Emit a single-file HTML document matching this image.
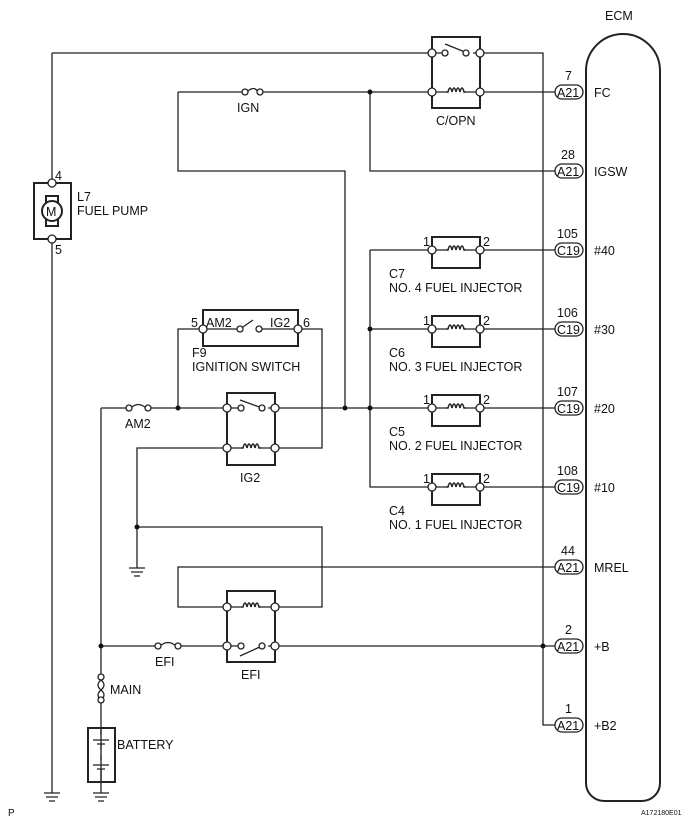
<!DOCTYPE html>
<html><head><meta charset="utf-8"><style>
html,body{margin:0;padding:0;background:#fff;}
svg{display:block;}
text{font-family:"Liberation Sans",sans-serif;font-size:12.5px;fill:#111;}
.w{fill:none;stroke:#222;stroke-width:1.3;}
.b{fill:none;stroke:#222;stroke-width:2;}
.t{fill:#fff;stroke:#222;stroke-width:1.3;}
.d{fill:#111;}
</style></head><body>
<svg width="689" height="825" viewBox="0 0 689 825" xmlns="http://www.w3.org/2000/svg">
<defs>
<g id="coil"><path class="w" d="M-10 0 h2 q2-8 4 0 q2-8 4 0 q2-8 4 0 q2-8 4 0 h2" style="stroke-width:1.5"/></g>
<g id="conn"><rect class="t" x="0" y="-7" width="28" height="14" rx="7"/></g>
</defs>
<text x="605" y="20">ECM</text>
<path class="b" d="M586 71 a36 36 0 0 1 74 0 V783 a18 18 0 0 1 -18 18 H604 a18 18 0 0 1 -18 -18 Z"/>

<path class="w" d="M52 53 H432 M480 53 H543 V725 H555"/>
<path class="w" d="M52 53 V183 M52 239 V793"/>
<path class="w" d="M178 92 H243 M262 92 H432 M480 92 H555"/>
<path class="w" d="M178 92 V171 H345 V408"/>
<path class="w" d="M370 92 V171 H555"/>
<path class="w" d="M370 250 V487 H432 M480 487 H555"/>
<path class="w" d="M370 250 H432 M480 250 H555 M370 329 H432 M480 329 H555"/>
<path class="w" d="M275 408 H432 M480 408 H555"/>
<path class="w" d="M101 408 H127 M150 408 H227"/>
<path class="w" d="M178 408 V329 H203 M298 329 H322 V448 H275"/>
<path class="w" d="M227 448 H137 V568"/>
<path class="w" d="M137 527 H322 V607 H275"/>
<path class="w" d="M555 567 H178 V607 H227"/>
<path class="w" d="M101 408 V677 M101 700 V793"/>
<path class="w" d="M101 646 H156 M180 646 H227 M275 646 H555"/>

<g class="w"><path d="M44 793 H60 M46 797 H58 M49 801 H55"/>
<path d="M93 793 H109 M95 797 H107 M98 801 H104"/>
<path d="M129 568 H145 M131 572 H143 M134 576 H140"/></g>

<g class="d"><circle cx="370" cy="92" r="2.5"/><circle cx="345" cy="408" r="2.5"/><circle cx="370" cy="408" r="2.5"/><circle cx="370" cy="329" r="2.5"/><circle cx="178" cy="408" r="2.5"/><circle cx="137" cy="527" r="2.5"/><circle cx="101" cy="646" r="2.5"/><circle cx="543" cy="646" r="2.5"/></g>

<g><path class="w" d="M247 92 q7-7 11 0"/><circle class="t" cx="245" cy="92" r="3"/><circle class="t" cx="260" cy="92" r="3"/><text x="237" y="112">IGN</text></g>
<g><path class="w" d="M131 408 q7-7 15 0"/><circle class="t" cx="129" cy="408" r="3"/><circle class="t" cx="148" cy="408" r="3"/><text x="125" y="428">AM2</text></g>
<g><path class="w" d="M160 646 q8-7 16 0"/><circle class="t" cx="158" cy="646" r="3"/><circle class="t" cx="178" cy="646" r="3"/><text x="155" y="666">EFI</text></g>
<g><path class="w" d="M101 680 q-6 5 0 10 q6 5 0 10 M101 680 q6 5 0 10 q-6 5 0 10"/><circle class="t" cx="101" cy="677" r="3"/><circle class="t" cx="101" cy="700" r="3"/><text x="110" y="694">MAIN</text></g>

<rect class="b" x="34" y="183" width="37" height="56"/>
<rect class="b" x="46" y="196" width="12" height="30"/>
<circle class="t" cx="52" cy="211" r="10" style="stroke-width:2"/>
<text x="46" y="216">M</text>
<circle class="t" cx="52" cy="183" r="4"/><circle class="t" cx="52" cy="239" r="4"/>
<text x="55" y="180">4</text><text x="55" y="254">5</text>
<text x="77" y="201">L7</text><text x="77" y="215">FUEL PUMP</text>

<rect class="b" x="432" y="37" width="48" height="71"/>
<circle class="t" cx="432" cy="53" r="4"/><circle class="t" cx="480" cy="53" r="4"/><circle class="t" cx="432" cy="92" r="4"/><circle class="t" cx="480" cy="92" r="4"/>
<path class="w" d="M436 53 H442 M473 53 H476 M445 44 L465 52"/><circle class="t" cx="445" cy="53" r="3"/><circle class="t" cx="466" cy="53" r="3"/>
<path class="w" d="M436 92 H446 M466 92 H476"/><use href="#coil" x="456" y="92"/>
<text x="436" y="125">C/OPN</text>

<g id="inj">
<rect class="b" x="432" y="237" width="48" height="31"/>
<path class="w" d="M436 250 H446 M466 250 H476"/><use href="#coil" x="456" y="250"/>
<circle class="t" cx="432" cy="250" r="4"/><circle class="t" cx="480" cy="250" r="4"/>
<text x="423" y="246">1</text><text x="483" y="246">2</text>
</g>
<use href="#inj" y="79"/><use href="#inj" y="158"/><use href="#inj" y="237"/>
<text x="389" y="278">C7</text><text x="389" y="292">NO. 4 FUEL INJECTOR</text>
<text x="389" y="357">C6</text><text x="389" y="371">NO. 3 FUEL INJECTOR</text>
<text x="389" y="436">C5</text><text x="389" y="450">NO. 2 FUEL INJECTOR</text>
<text x="389" y="515">C4</text><text x="389" y="529">NO. 1 FUEL INJECTOR</text>

<rect class="b" x="203" y="310" width="95" height="36"/>
<circle class="t" cx="203" cy="329" r="4"/><circle class="t" cx="298" cy="329" r="4"/>
<path class="w" d="M240 329 L253 320"/><circle class="t" cx="240" cy="329" r="3"/><circle class="t" cx="259" cy="329" r="3"/>
<path class="w" d="M262 329 H294 M207 329 H237"/>
<text x="191" y="327">5</text><text x="206" y="327">AM2</text><text x="270" y="327">IG2</text><text x="303" y="327">6</text>
<text x="192" y="357">F9</text><text x="192" y="371">IGNITION SWITCH</text>

<rect class="b" x="227" y="393" width="48" height="72"/>
<circle class="t" cx="227" cy="408" r="4"/><circle class="t" cx="275" cy="408" r="4"/><circle class="t" cx="227" cy="448" r="4"/><circle class="t" cx="275" cy="448" r="4"/>
<path class="w" d="M231 408 H238 M268 408 H271 M240 400 L262 408"/><circle class="t" cx="241" cy="408" r="3"/><circle class="t" cx="262" cy="408" r="3"/>
<path class="w" d="M231 448 H241 M261 448 H271"/><use href="#coil" x="251" y="448"/>
<text x="240" y="482">IG2</text>

<rect class="b" x="227" y="591" width="48" height="71"/>
<circle class="t" cx="227" cy="607" r="4"/><circle class="t" cx="275" cy="607" r="4"/><circle class="t" cx="227" cy="646" r="4"/><circle class="t" cx="275" cy="646" r="4"/>
<path class="w" d="M231 607 H241 M261 607 H271"/><use href="#coil" x="251" y="607"/>
<path class="w" d="M231 646 H238 M268 646 H271 M240 656 L262 646"/><circle class="t" cx="241" cy="646" r="3"/><circle class="t" cx="262" cy="646" r="3"/>
<text x="241" y="679">EFI</text>

<rect class="b" x="88" y="728" width="27" height="54"/>
<path class="w" d="M101 728 V735 M93 740 H109 M97 744 H105 M101 744 V750 M101 755 V760 M93 765 H109 M97 769 H105 M101 769 V782"/>
<text x="117" y="749">BATTERY</text>

<g>
<use href="#conn" x="555" y="92"/><text x="557" y="97">A21</text><text x="565" y="80">7</text><text x="594" y="97">FC</text>
<use href="#conn" x="555" y="171"/><text x="557" y="176">A21</text><text x="561" y="159">28</text><text x="594" y="176">IGSW</text>
<use href="#conn" x="555" y="250"/><text x="557" y="255">C19</text><text x="557" y="238">105</text><text x="594" y="255">#40</text>
<use href="#conn" x="555" y="329"/><text x="557" y="334">C19</text><text x="557" y="317">106</text><text x="594" y="334">#30</text>
<use href="#conn" x="555" y="408"/><text x="557" y="413">C19</text><text x="557" y="396">107</text><text x="594" y="413">#20</text>
<use href="#conn" x="555" y="487"/><text x="557" y="492">C19</text><text x="557" y="475">108</text><text x="594" y="492">#10</text>
<use href="#conn" x="555" y="567"/><text x="557" y="572">A21</text><text x="561" y="555">44</text><text x="594" y="572">MREL</text>
<use href="#conn" x="555" y="646"/><text x="557" y="651">A21</text><text x="565" y="634">2</text><text x="594" y="651">+B</text>
<use href="#conn" x="555" y="725"/><text x="557" y="730">A21</text><text x="565" y="713">1</text><text x="594" y="730">+B2</text>
</g>

<text x="8" y="816" style="font-size:10px">P</text>
<text x="641" y="815" style="font-size:7px">A172180E01</text>
</svg>
</body></html>
